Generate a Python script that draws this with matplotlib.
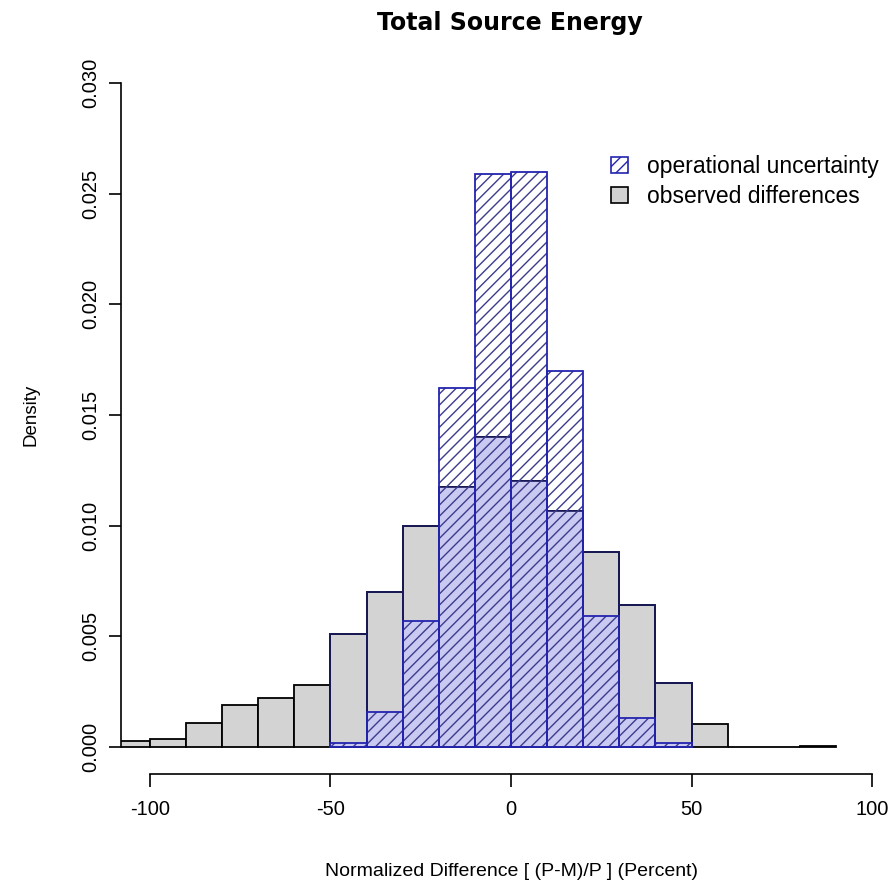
import matplotlib
matplotlib.use("Agg")
import matplotlib.pyplot as plt
from matplotlib.patches import Patch
import numpy as np

plt.rcParams['font.family'] = ['Liberation Sans', 'DejaVu Sans']

# Data
bin_left = list(range(-110, 90, 10))  # bins of width 10 from -110 to 90
observed = [0.00027, 0.00036, 0.0011, 0.0019, 0.0022, 0.0028, 0.0051, 0.0070,
            0.0100, 0.01175, 0.0140, 0.0120, 0.01066, 0.0088, 0.0064, 0.0029,
            0.00104, 0.0, 0.0, 0.00006]
unc_left = list(range(-50, 50, 10))
uncertainty = [0.0002, 0.0016, 0.0057, 0.0162, 0.0259, 0.0260, 0.0170, 0.0059, 0.0013, 0.0002]
xticks = [-100, -50, 0, 50, 100]
yticks = [0.000, 0.005, 0.010, 0.015, 0.020, 0.025, 0.030]
ytick_labels = ["0.000", "0.005", "0.010", "0.015", "0.020", "0.025", "0.030"]

W, H = 896, 894
fig = plt.figure(figsize=(W / 100, H / 100), dpi=100)
L, R, B, T = 121, 901, 773.6, 56.4
ax = fig.add_axes([L / W, (H - B) / H, (R - L) / W, (B - T) / H])
ax.set_xlim(-108, 108)
ax.set_ylim(-0.0012, 0.0312)

width = 10
gray = '#d3d3d3'
lav = '#c9c9f2'
blue_edge = '#2424b0'
hatch_col = '#3c3c8c'

ax.bar(bin_left, observed, width=width, align='edge', color=gray,
       edgecolor='black', linewidth=1.3, zorder=1)

# overlap region
obs_map = dict(zip(bin_left, observed))
overlap = [min(u, obs_map[x]) for x, u in zip(unc_left, uncertainty)]
ax.bar(unc_left, overlap, width=width, align='edge', color=lav,
       edgecolor='none', linewidth=0, zorder=2)
# gray outlines on top (top edges visible inside blue bars)
ax.bar(unc_left, [obs_map[x] for x in unc_left], width=width, align='edge',
       fill=False, edgecolor='#1a1a60', linewidth=1.2, zorder=3)

plt.rcParams['hatch.linewidth'] = 1.0
ax.bar(unc_left, uncertainty, width=width, align='edge', fill=False,
       hatch='///', edgecolor=hatch_col, linewidth=0, zorder=4)
ax.bar(unc_left, uncertainty, width=width, align='edge', fill=False,
       edgecolor=blue_edge, linewidth=1.3, zorder=5)

# Axes styling (R-like)
for s in ['top', 'right']:
    ax.spines[s].set_visible(False)
ax.spines['left'].set_bounds(0, 0.03)
ax.spines['bottom'].set_bounds(-100, 100)
ax.spines['left'].set_linewidth(1.2)
ax.spines['bottom'].set_linewidth(1.2)
ax.set_xticks(xticks)
ax.set_xticklabels([str(v) for v in xticks])
ax.set_yticks(yticks)
ax.set_yticklabels(ytick_labels, rotation=90, va='center')
ax.tick_params(axis='both', direction='out', length=9, width=1.2,
               labelsize=14.5, colors='black')
ax.tick_params(axis='x', pad=10)
ax.tick_params(axis='y', pad=6)

ax.set_xlabel("Normalized Difference [ (P-M)/P ] (Percent)", fontsize=14, labelpad=32)
ax.set_ylabel("Density", fontsize=13.5, labelpad=30)
fig.text(510 / W, 1 - 23 / H, "Total Source Energy", ha='center', va='center',
         fontsize=17, fontweight='bold', family='DejaVu Sans')

handles = [Patch(facecolor='white', edgecolor=blue_edge, hatch='///', linewidth=1.2),
           Patch(facecolor=gray, edgecolor='black', linewidth=1.2)]
leg = ax.legend(handles, ["operational uncertainty", "observed differences"],
                loc='upper left', bbox_to_anchor=((602 - L) / (R - L), (B - 146) / (B - T)),
                frameon=False, fontsize=16.5, handlelength=0.72, handleheight=0.72,
                handletextpad=0.85, labelspacing=0.3, borderaxespad=0)

fig.savefig("out.png", dpi=100)
